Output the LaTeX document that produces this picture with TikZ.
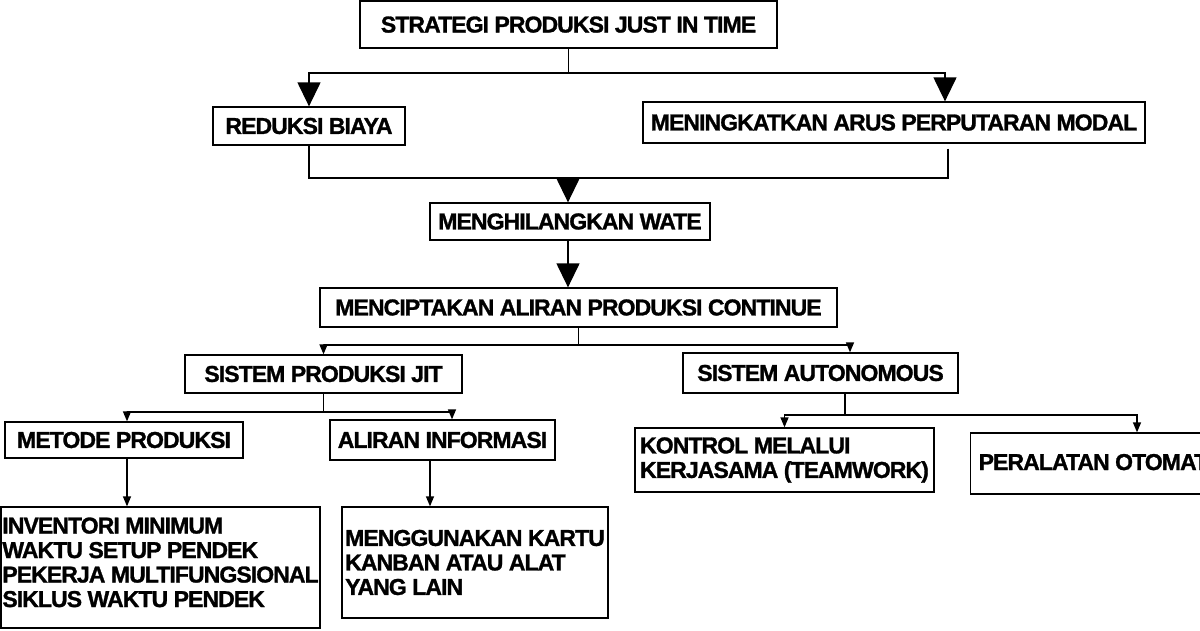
\documentclass[tikz,border=0pt]{standalone}
\usepackage{fontspec}
\setmainfont{Liberation Sans}
\newfontfamily\diagfont{Liberation Sans}[LetterSpace=-4, BoldFeatures={FakeBold=1.2}]
\usetikzlibrary{arrows.meta}
\tikzset{
  x=1pt, y=-1pt,
  box/.style={draw, line width=1.3pt, inner sep=0pt, align=center,
    font=\diagfont\bfseries\fontsize{23}{24.5}\selectfont},
  lbox/.style={box, align=left},
  conn/.style={line width=1.3pt},
  bigarr/.style={conn, -{Triangle[width=23pt,length=24pt]}},
  smallarr/.style={conn, -{Triangle[width=8pt,length=10pt]}}
}
\begin{document}
\begin{tikzpicture}
\useasboundingbox (0,0) rectangle (1200,630);
\clip (0,0) rectangle (1200,630);
\fill[white] (0,0) rectangle (1200,630);

% boxes
\node[box, minimum width=417pt, minimum height=47pt, text depth=-2pt] (top) at (568.5,24.5) {STRATEGI PRODUKSI JUST IN TIME};
\node[box, minimum width=192pt, minimum height=38pt] (red) at (309,126) {REDUKSI BIAYA};
\node[box, minimum width=502pt, minimum height=41pt] (men) at (894,122.5) {MENINGKATKAN ARUS PERPUTARAN MODAL};
\node[box, minimum width=280pt, minimum height=37pt] (wate) at (570,221.5) {MENGHILANGKAN WATE};
\node[box, minimum width=517pt, minimum height=39pt] (cip) at (578.5,307.5) {MENCIPTAKAN ALIRAN PRODUKSI CONTINUE};
\node[box, minimum width=277pt, minimum height=38pt] (spj) at (323.5,374) {SISTEM PRODUKSI JIT};
\node[box, minimum width=275pt, minimum height=40pt] (aut) at (820.5,373) {SISTEM AUTONOMOUS};
\node[box, minimum width=238pt, minimum height=36pt] (met) at (124,440) {METODE PRODUKSI};
\node[box, minimum width=225pt, minimum height=40pt] (ali) at (442.5,440) {ALIRAN INFORMASI};
\node[lbox, minimum width=319pt, minimum height=121pt] (inv) at (160.5,567.5)
  {INVENTORI MINIMUM\\WAKTU SETUP PENDEK\\PEKERJA MULTIFUNGSIONAL\\SIKLUS WAKTU PENDEK\\[-14pt]};
\node[lbox, minimum width=266pt, minimum height=111pt] (kan) at (475,562.5)
  {MENGGUNAKAN KARTU\\KANBAN ATAU ALAT\\YANG LAIN};
\node[lbox, minimum width=299pt, minimum height=64pt] (kon) at (784.5,460)
  {KONTROL MELALUI\\KERJASAMA (TEAMWORK)};
\node[box, anchor=west, inner xsep=8pt, minimum height=61pt, text depth=3pt] (per) at (970,463.5) {PERALATAN OTOMAT};

% junction coordinates
\coordinate (j1) at (568,73);
\coordinate (j2) at (568,178);
\coordinate (j3) at (577,345);
\coordinate (j4) at (322,412);
\coordinate (j5) at (845,415);

% level 1
\draw[bigarr] (top.south) -- (top.south |- j1) -| (red.north);
\draw[bigarr] (top.south) -- (top.south |- j1) -| (945,0 |- men.north);
% level 2 merge
\draw[conn] (red.south) |- (j2);
\draw[conn] ([yshift=-5pt]948,0 |- men.south) |- (j2);
\draw[bigarr] (j2) -- (568,0 |- wate.north);
% level 3
\draw[bigarr] (568,0 |- wate.south) -- (568,0 |- cip.north);
% level 4
\draw[smallarr] (cip.south) -- (cip.south |- j3) -| (spj.north);
\draw[smallarr] (cip.south) -- (cip.south |- j3) -| (850,0 |- aut.north);
% level 5 left
\draw[smallarr] (spj.south) -- (spj.south |- j4) -| (127,0 |- met.north);
\draw[smallarr] (spj.south) -- (spj.south |- j4) -| (452,0 |- ali.north);
\draw[smallarr] (127,0 |- met.south) -- (127,0 |- inv.north);
\draw[smallarr] (430,0 |- ali.south) -- (430,0 |- kan.north);
% level 5 right
\draw[smallarr] (845,0 |- aut.south) -- (j5) -| (kon.north);
\draw[smallarr] (845,0 |- aut.south) -- (j5) -| (1137,0 |- per.north);
\end{tikzpicture}
\end{document}
